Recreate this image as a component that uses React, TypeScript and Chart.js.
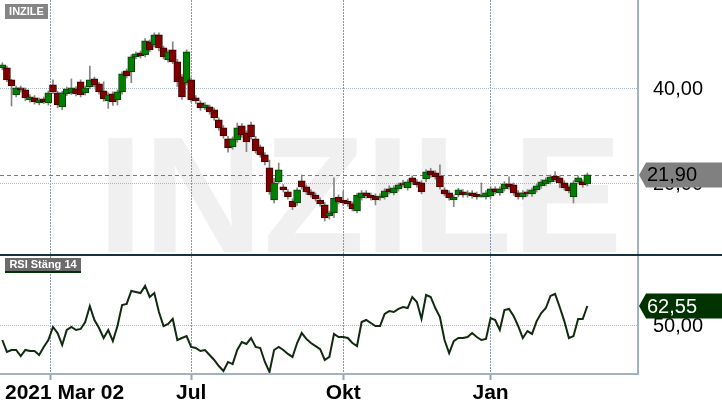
import { useEffect, useRef } from "react"
import { Chart, registerables } from "chart.js"

Chart.register(...registerables)

const FONT = "'Liberation Sans', Arial, sans-serif"

// Daily candles, one every second session, starting 2021-03-02
const opens = [
  44.42, 44.42, 41.89, 38.74, 40.21, 39.79, 37.68, 38.11, 37.05, 37.89,
  37.05, 40.84, 39.16, 36.21, 38.95, 39.16, 40.0, 41.47, 39.16, 40.42,
  42.11, 41.05, 39.58, 37.47, 38.95, 37.68, 39.37, 43.79, 43.58, 46.74,
  47.58, 47.16, 49.89, 49.26, 51.37, 48.63, 46.11, 48.21, 45.68, 42.53,
  41.26, 41.89, 38.11, 37.05, 36.0, 36.21, 35.58, 33.47, 31.79, 29.47,
  27.79, 29.26, 32.21, 30.74, 32.42, 29.47, 27.79, 26.11, 23.37, 16.63,
  20.42, 19.37, 18.32, 16.42, 16.0, 20.63, 19.37, 18.32, 17.68, 16.63,
  15.58, 13.26, 13.89, 17.26, 16.63, 16.42, 15.79, 14.32, 17.05, 18.11,
  17.68, 17.47, 17.05, 17.26, 18.95, 18.11, 18.95, 20.21, 19.16, 21.26,
  20.42, 20.21, 21.05, 22.74, 22.32, 21.68, 18.74, 18.11, 16.63, 17.68,
  18.32, 17.68, 18.11, 17.89, 17.26, 17.26, 17.47, 18.95, 18.11, 18.95,
  20.0, 19.79, 18.11, 17.26, 18.32, 17.89, 18.74, 19.58, 20.0, 20.42,
  21.68, 21.26, 20.21, 19.37, 17.26, 20.42, 20.42, 20.0,
]
const highs = [
  45.5, 44.8, 42.0, 40.6, 40.6, 40.2, 38.8, 38.6, 38.1, 38.3,
  39.6, 41.9, 39.5, 39.5, 40.4, 42.1, 40.5, 41.9, 40.6, 44.8,
  42.5, 41.4, 41.5, 39.2, 39.4, 39.8, 43.6, 44.2, 47.2, 47.8,
  48.0, 50.6, 50.3, 51.8, 51.8, 49.0, 48.2, 49.9, 46.2, 43.0,
  48.2, 42.3, 38.6, 37.5, 37.1, 36.6, 36.0, 33.9, 32.3, 30.0,
  29.9, 32.8, 32.7, 31.2, 33.0, 30.0, 28.2, 26.6, 25.0, 21.2,
  24.4, 19.9, 18.8, 16.9, 19.2, 21.9, 19.8, 18.8, 18.1, 17.1,
  16.1, 14.3, 21.3, 17.7, 18.5, 16.9, 16.2, 18.1, 18.6, 18.6,
  18.1, 17.9, 17.9, 19.0, 19.6, 19.6, 20.2, 20.8, 20.9, 21.7,
  20.9, 20.7, 23.0, 23.3, 22.8, 24.0, 19.2, 18.6, 17.7, 19.1,
  18.8, 18.6, 18.6, 18.3, 20.2, 18.6, 19.4, 19.4, 19.4, 20.5,
  21.5, 20.2, 18.6, 18.6, 18.8, 19.2, 20.0, 20.9, 21.3, 21.9,
  22.6, 21.7, 20.7, 19.8, 20.7, 21.7, 20.9, 22.3,
]
const lows = [
  44.0, 41.5, 36.4, 38.3, 39.3, 37.5, 37.2, 36.8, 36.6, 36.9,
  36.6, 39.0, 36.0, 35.6, 38.6, 38.8, 38.5, 38.3, 38.7, 40.0,
  40.4, 38.9, 37.4, 35.9, 36.5, 36.6, 38.9, 42.3, 41.3, 46.3,
  46.5, 46.7, 47.8, 48.8, 48.0, 46.3, 45.6, 45.3, 40.5, 37.8,
  40.8, 37.2, 36.9, 35.5, 35.6, 34.7, 33.4, 31.3, 29.6, 26.7,
  27.3, 28.8, 29.8, 26.8, 29.4, 26.5, 25.6, 24.0, 17.8, 16.0,
  20.0, 18.3, 16.8, 14.6, 15.5, 18.9, 17.8, 17.2, 16.4, 15.3,
  12.2, 12.6, 12.9, 15.8, 15.5, 15.3, 14.3, 13.9, 16.6, 17.0,
  16.6, 15.6, 16.6, 16.8, 17.9, 17.7, 18.5, 19.3, 18.7, 19.9,
  19.3, 17.9, 20.5, 21.4, 21.0, 18.9, 17.5, 16.6, 15.2, 17.3,
  17.2, 17.2, 17.0, 16.8, 17.2, 16.8, 17.0, 17.9, 17.6, 18.5,
  18.9, 17.6, 16.8, 16.8, 17.4, 17.4, 18.3, 19.1, 19.6, 20.0,
  20.4, 19.2, 18.7, 18.1, 16.0, 20.0, 19.3, 19.6,
]
const closes = [
  45.05, 41.89, 40.63, 40.21, 39.79, 38.11, 38.32, 37.26, 37.68, 37.26,
  39.16, 39.37, 36.63, 39.16, 40.0, 40.21, 38.95, 38.74, 40.21, 41.89,
  40.84, 39.37, 37.89, 38.74, 37.26, 39.37, 43.16, 42.74, 46.74, 47.37,
  46.95, 50.11, 48.21, 51.37, 48.63, 46.74, 47.79, 45.68, 41.47, 38.32,
  47.79, 37.68, 37.47, 36.0, 36.63, 35.16, 33.89, 31.79, 30.11, 27.58,
  29.47, 31.79, 30.32, 28.84, 29.89, 26.95, 26.11, 24.63, 18.32, 20.21,
  22.95, 18.74, 17.26, 15.16, 18.74, 19.37, 18.32, 17.68, 16.84, 15.79,
  12.84, 13.89, 17.05, 16.21, 16.0, 15.79, 14.74, 17.68, 18.11, 17.47,
  17.05, 16.63, 17.47, 18.53, 18.32, 19.16, 19.79, 19.79, 20.42, 20.42,
  19.79, 18.32, 22.53, 21.9, 21.47, 19.37, 17.89, 17.05, 17.26, 18.74,
  17.68, 18.11, 17.47, 17.26, 17.68, 18.11, 18.95, 18.32, 18.95, 20.0,
  19.37, 18.11, 17.26, 18.11, 17.89, 18.74, 19.58, 20.42, 20.84, 21.47,
  20.84, 20.21, 19.16, 18.53, 20.21, 21.26, 19.79, 21.9,
]
const rsi = [
  40.1, 32.2, 33.5, 33.5, 29.5, 33.5, 32.8, 32.8, 30.2, 35.5,
  40.1, 48.7, 44.7, 36.8, 46.7, 48.7, 46.7, 47.4, 52.0, 62.5,
  53.3, 48.0, 41.4, 46.7, 39.4, 49.3, 63.2, 63.9, 72.5, 71.8,
  71.1, 75.8, 68.5, 71.1, 58.6, 49.3, 50.7, 54.0, 40.1, 41.4,
  42.7, 35.5, 34.8, 32.8, 33.5, 30.2, 26.9, 22.9, 19.6, 25.6,
  24.2, 33.5, 38.8, 37.5, 41.4, 35.5, 34.8, 25.6, 19.0, 33.5,
  35.5, 33.5, 30.9, 28.9, 38.1, 44.7, 40.8, 38.1, 36.1, 34.1,
  26.9, 28.9, 44.1, 42.1, 42.1, 41.4, 38.1, 36.1, 52.0, 53.3,
  51.3, 49.3, 49.3, 57.3, 59.2, 58.6, 60.6, 61.9, 61.2, 68.5,
  65.2, 54.0, 69.8, 68.5, 61.2, 55.3, 40.1, 31.5, 39.4, 41.4,
  41.4, 42.1, 44.7, 42.1, 40.1, 40.8, 54.6, 53.3, 46.7, 59.9,
  60.6, 55.9, 49.3, 41.4, 46.0, 44.1, 52.6, 57.9, 61.2, 69.2,
  70.5, 61.9, 52.6, 41.4, 42.7, 53.9, 53.9, 62.55,
]

// trading-day index of each candle (every second session)
const days = opens.map((_, i) => 1 + 2 * i)
const gridDays = [22, 83, 149, 213]
const xLabels = ["", "Jul", "Okt", "Jan"]
const startLabel = "2021 Mar 02"
const priceTicks = [20, 40]
const rsiTicks = [50]

const lastClose = closes[closes.length - 1]
const lastRsi = rsi[rsi.length - 1]

const fmt = (v: number) => v.toFixed(2).replace(".", ",")

const AXIS = "#a3b1c2"
const GRID_V = "#8797a9"
const GRID_H = "#aab6c3"

function drawTag(ctx: CanvasRenderingContext2D, y: number, fill: string, color: string, text: string) {
  ctx.save()
  ctx.fillStyle = fill
  ctx.beginPath()
  ctx.moveTo(639, y)
  ctx.lineTo(646, y - 12.5)
  ctx.lineTo(722, y - 12.5)
  ctx.lineTo(722, y + 12.5)
  ctx.lineTo(646, y + 12.5)
  ctx.closePath()
  ctx.fill()
  ctx.fillStyle = color
  ctx.font = `20px ${FONT}`
  ctx.textAlign = "left"
  ctx.textBaseline = "middle"
  ctx.fillText(text, 647, y + 1)
  ctx.restore()
}

const topDeco = {
  id: "topDeco",
  beforeDraw(chart: any) {
    const { ctx, chartArea } = chart
    ctx.save()
    ctx.beginPath()
    ctx.rect(chartArea.left, chartArea.top, chartArea.right - chartArea.left, chartArea.bottom - chartArea.top)
    ctx.clip()
    ctx.fillStyle = "#f0f0f0"
    ctx.font = `bold 166px ${FONT}`
    ctx.textAlign = "center"
    ctx.textBaseline = "alphabetic"
    ctx.fillText("INZILE", 360, 252)
    ctx.restore()
  },
  beforeDatasetsDraw(chart: any) {
    const { ctx, chartArea, scales } = chart
    const y = Math.round(scales.y.getPixelForValue(lastClose)) + 0.5
    ctx.save()
    ctx.strokeStyle = "#7a7a7a"
    ctx.lineWidth = 1
    ctx.setLineDash([4, 3])
    ctx.beginPath()
    ctx.moveTo(chartArea.left, y)
    ctx.lineTo(chartArea.right, y)
    ctx.stroke()
    ctx.restore()
  },
  afterDraw(chart: any) {
    const { ctx, chartArea, scales } = chart
    ctx.save()
    ctx.fillStyle = AXIS
    ctx.fillRect(637, 0, 2, chartArea.bottom)
    ctx.fillStyle = "#000"
    ctx.font = `20px ${FONT}`
    ctx.textAlign = "left"
    ctx.textBaseline = "middle"
    priceTicks.forEach((v) => ctx.fillText(fmt(v), 653, scales.y.getPixelForValue(v) + 1))
    ctx.fillStyle = "#858585"
    ctx.fillRect(5, 4, 43, 15)
    ctx.fillStyle = "#fff"
    ctx.font = `bold 11px ${FONT}`
    ctx.textAlign = "center"
    ctx.fillText("INZILE", 26.5, 12)
    ctx.restore()
    drawTag(ctx, scales.y.getPixelForValue(lastClose), "#808080", "#000", fmt(lastClose))
  },
}

const rsiDeco = {
  id: "rsiDeco",
  afterDraw(chart: any) {
    const { ctx, chartArea, scales } = chart
    ctx.save()
    ctx.fillStyle = "#12333f"
    ctx.fillRect(0, 0, 722, 2)
    ctx.fillStyle = AXIS
    ctx.fillRect(637, 2, 2, chartArea.bottom - 1)
    ctx.fillRect(0, chartArea.bottom - 1, 639, 2)
    ctx.fillStyle = "#6b6b6b"
    ctx.fillRect(5, 4, 76, 13)
    ctx.fillStyle = "#003300"
    ctx.fillRect(5, 17, 76, 2)
    ctx.fillStyle = "#fff"
    ctx.font = `bold 11px ${FONT}`
    ctx.textAlign = "center"
    ctx.textBaseline = "middle"
    ctx.fillText("RSI Stäng 14", 43, 11)
    ctx.fillStyle = "#000"
    ctx.font = `20px ${FONT}`
    ctx.textAlign = "left"
    rsiTicks.forEach((v) => ctx.fillText(fmt(v), 653, scales.y.getPixelForValue(v) + 1))
    ctx.font = `bold 21px ${FONT}`
    ctx.textBaseline = "alphabetic"
    ctx.fillText(startLabel, 5, 145)
    ctx.textAlign = "center"
    xLabels.forEach((t, i) => {
      if (t) ctx.fillText(t, scales.x.getPixelForValue(gridDays[i]), 145)
    })
    ctx.restore()
    drawTag(ctx, scales.y.getPixelForValue(lastRsi), "#003300", "#fff", fmt(lastRsi))
  },
}

export default function App() {
  const topRef = useRef<HTMLCanvasElement>(null)
  const rsiRef = useRef<HTMLCanvasElement>(null)

  useEffect(() => {
    if (!topRef.current || !rsiRef.current) return

    const up = closes.map((c, i) => c >= opens[i])

    const top = new Chart(topRef.current, {
      type: "bar",
      data: {
        datasets: [
          {
            label: "body",
            data: days.map((d, i) => ({ x: d, y: [opens[i], closes[i]] })),
            backgroundColor: up.map((u) => (u ? "#008000" : "#800000")),
            borderColor: up.map((u) => (u ? "#0b3a0b" : "#3d0000")),
            borderWidth: 1,
            borderSkipped: false,
            barThickness: 7,
            grouped: false,
          },
          {
            label: "wick",
            data: days.map((d, i) => ({ x: d, y: [lows[i], highs[i]] })),
            backgroundColor: "#858585",
            borderWidth: 0,
            barThickness: 1,
            grouped: false,
          },
        ],
      } as any,
      options: {
        animation: false,
        responsive: true,
        maintainAspectRatio: false,
        layout: { padding: 0 },
        plugins: { legend: { display: false }, tooltip: { enabled: false } },
        scales: {
          x: {
            type: "linear",
            min: 0,
            max: 277,
            offset: false,
            afterBuildTicks: (s: any) => {
              s.ticks = gridDays.map((v) => ({ value: v }))
            },
            afterFit: (s: any) => {
              s.height = 0
            },
            ticks: { display: false },
            grid: { color: GRID_V, drawTicks: false, offset: false },
            border: { display: false, dash: [2, 1] },
          },
          y: {
            type: "linear",
            position: "right",
            min: 5.26,
            max: 58.7,
            afterBuildTicks: (s: any) => {
              s.ticks = priceTicks.map((v) => ({ value: v }))
            },
            afterFit: (s: any) => {
              s.width = 84
            },
            ticks: { display: false },
            grid: { color: GRID_H, drawTicks: false },
            border: { display: false, dash: [1, 1] },
          },
        },
      } as any,
      plugins: [topDeco],
    })

    const bottom = new Chart(rsiRef.current, {
      type: "line",
      data: {
        datasets: [
          {
            label: "RSI",
            data: days.map((d, i) => ({ x: d, y: rsi[i] })),
            borderColor: "#0f2a0f",
            borderWidth: 2,
            pointRadius: 0,
            tension: 0,
            fill: false,
          },
        ],
      },
      options: {
        animation: false,
        responsive: true,
        maintainAspectRatio: false,
        layout: { padding: { top: 2 } },
        plugins: { legend: { display: false }, tooltip: { enabled: false } },
        scales: {
          x: {
            type: "linear",
            min: 0,
            max: 277,
            afterBuildTicks: (s: any) => {
              s.ticks = gridDays.map((v) => ({ value: v }))
            },
            afterFit: (s: any) => {
              s.height = 36
            },
            ticks: { display: false },
            grid: { color: GRID_V, drawTicks: true, tickLength: 6, tickColor: "#93a2b4", tickWidth: 2 },
            border: { display: false, dash: [2, 1] },
          },
          y: {
            type: "linear",
            position: "right",
            min: 17.64,
            max: 95.57,
            afterBuildTicks: (s: any) => {
              s.ticks = rsiTicks.map((v) => ({ value: v }))
            },
            afterFit: (s: any) => {
              s.width = 84
            },
            ticks: { display: false },
            grid: { color: GRID_H, drawTicks: false },
            border: { display: false, dash: [1, 1] },
          },
        },
      } as any,
      plugins: [rsiDeco],
    })

    return () => {
      top.destroy()
      bottom.destroy()
    }
  }, [])

  return (
    <div style={{ position: "absolute", left: 0, top: 0, width: 722, height: 410, background: "#fff" }}>
      <div style={{ position: "relative", width: 722, height: 254 }}>
        <canvas ref={topRef} />
      </div>
      <div style={{ position: "relative", width: 722, height: 156 }}>
        <canvas ref={rsiRef} />
      </div>
    </div>
  )
}
